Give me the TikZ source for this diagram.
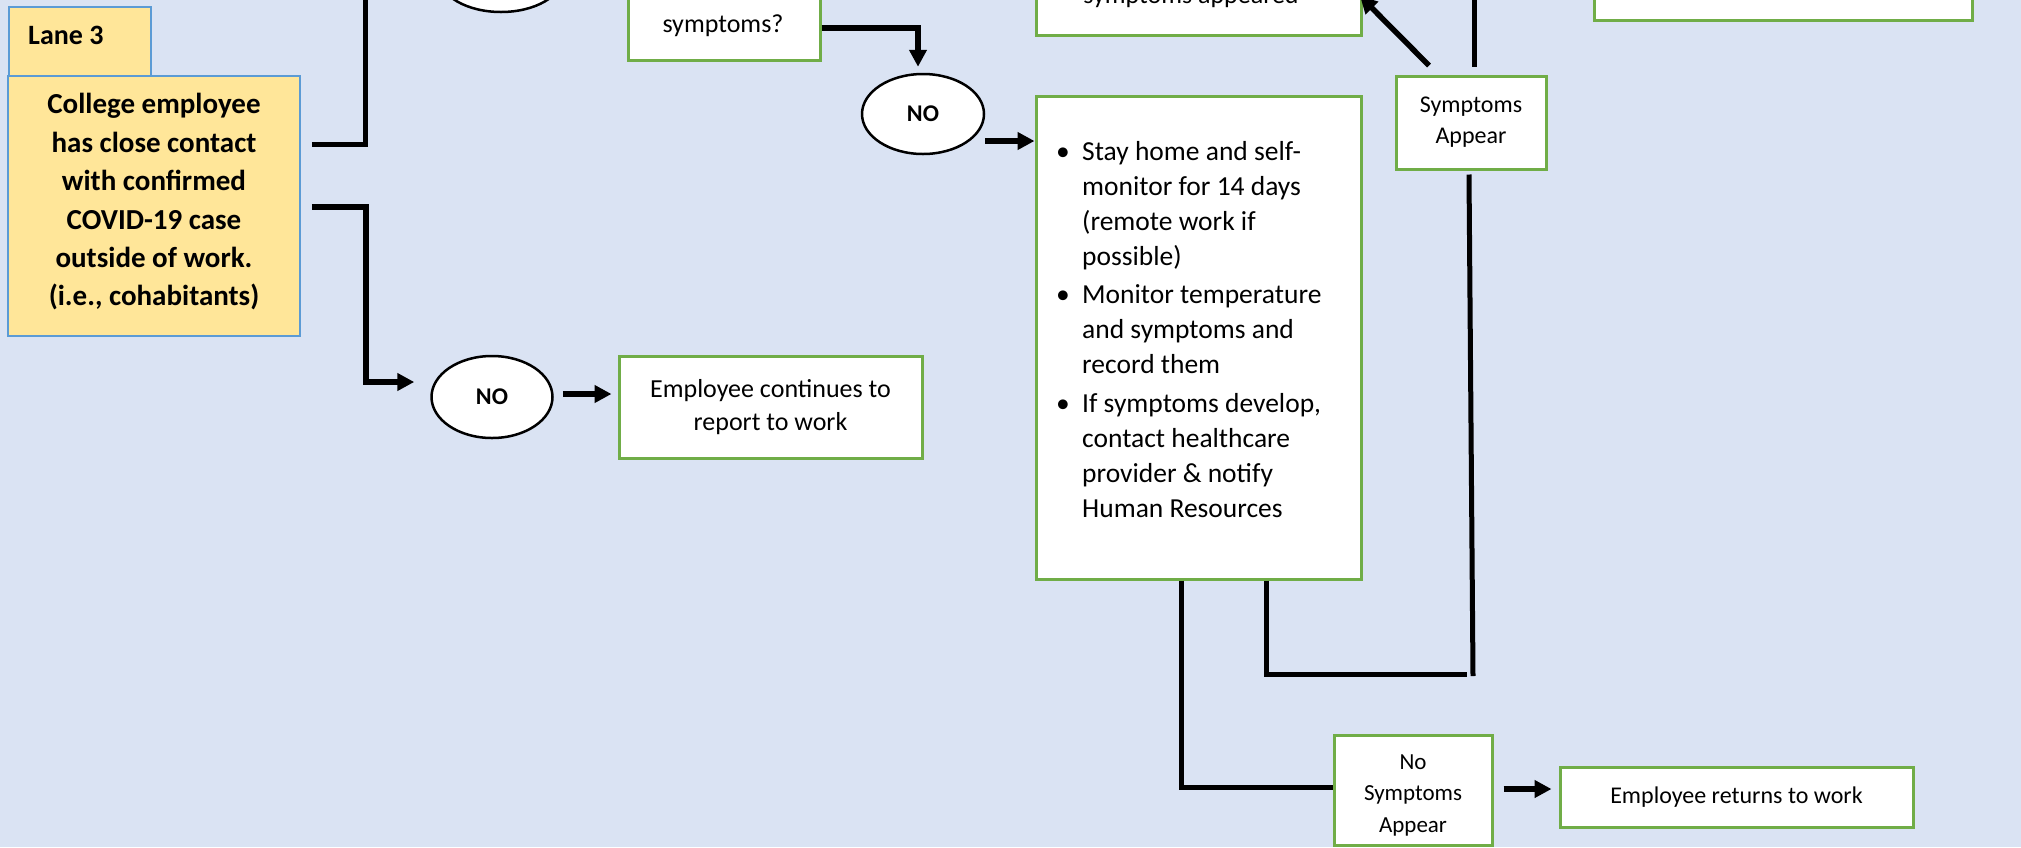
\documentclass[tikz,border=0pt]{standalone}
\usepackage{fontspec}
\setmainfont{Carlito}
\usetikzlibrary{arrows.meta,shapes.geometric}
\definecolor{bg}{HTML}{DAE3F3}
\definecolor{lanefill}{HTML}{FFE699}
\definecolor{laneline}{HTML}{5B9BD5}
\definecolor{boxline}{HTML}{70AD47}
\begin{document}
\begin{tikzpicture}[x=1pt,y=-1pt,
  lanebox/.style={draw=laneline, line width=1.5pt, fill=lanefill, inner sep=0pt},
  gbox/.style={draw=boxline, line width=3pt, fill=white, inner sep=0pt, align=center},
  oval/.style={ellipse, draw=black, line width=2.5pt, fill=white, inner sep=0pt, font=\fontsize{24}{28}\selectfont\bfseries},
  conn/.style={line width=5pt},
  arr/.style={line width=5.5pt, -{Triangle[length=17pt,width=17pt]}},
  txt/.style={inner sep=0pt, font=\fontsize{26}{35}\selectfont}
]
\useasboundingbox (0,0) rectangle (2021,847);
\clip (0,0) rectangle (2021,847);
\fill[bg] (0,0) rectangle (2021,847);

% helper y-levels
\coordinate (y28) at (0,28);
\coordinate (y141) at (0,141);
\coordinate (y144) at (0,144);
\coordinate (y207) at (0,207);
\coordinate (y382) at (0,382);
\coordinate (y394) at (0,394);
\coordinate (y789) at (0,789);
\coordinate (sappcorner) at (1360,-4);

% lane boxes
\node[lanebox, minimum width=142pt, minimum height=69pt, anchor=north west] (lane) at (8,6) {};
\node[anchor=base west, inner sep=0pt, font=\fontsize{28}{34}\selectfont\bfseries] (lanetxt) at (28,44) {Lane 3};
\node[lanebox, minimum width=292pt, minimum height=260pt] (college) at (154,206) {};
\node[inner sep=0pt, align=center, font=\fontsize{29}{38.4}\selectfont\bfseries] (collegetxt) at (154,202)
  {College employee\\has close contact\\with confirmed\\COVID-19 case\\outside of work.\\(i.e., cohabitants)};

% top partially visible nodes
\node[oval, minimum width=124pt, minimum height=72pt] (ov0) at (501,-24) {};
\node[gbox, minimum width=192pt, minimum height=124pt] (symq) at (724,-2) {};
\node[txt, anchor=base] (symqtxt) at (723,32) {symptoms?};
\node[gbox, minimum width=325pt, minimum height=140pt] (sapp) at (1198.5,-35) {};
\node[txt, anchor=base] (sapptxt) at (1191,3) {symptoms appeared};
\node[gbox, minimum width=378pt, minimum height=120pt] (tr) at (1783,-40) {};

% middle nodes
\node[oval, minimum width=122pt, minimum height=80pt] (no2) at (923,114) {NO};
\node[gbox, minimum width=325pt, minimum height=483pt] (plan) at (1198.5,337.5) {};
\node[inner sep=0pt, anchor=base west, font=\fontsize{27.5}{35}\selectfont] (plantxt) at (1056,160) {\begin{tabular}[t]{@{}p{26pt}@{}l@{}}
\textbullet & Stay home and self-\\
 & monitor for 14 days\\
 & (remote work if\\
 & possible)\\[3.5pt]
\textbullet & Monitor temperature\\
 & and symptoms and\\
 & record them\\[3.5pt]
\textbullet & If symptoms develop,\\
 & contact healthcare\\
 & provider \& notify\\
 & Human Resources
\end{tabular}};
\node[gbox, minimum width=150pt, minimum height=93pt, font=\fontsize{24}{31}\selectfont] (sa) at (1471,122.5) {Symptoms\\Appear};

% lower nodes
\node[oval, minimum width=121pt, minimum height=82pt] (no3) at (492,397) {NO};
\node[gbox, minimum width=303pt, minimum height=102pt, font=\fontsize{26}{33}\selectfont] (cont) at (770.5,407) {Employee continues to\\report to work};
\node[gbox, minimum width=158pt, minimum height=110pt] (ns) at (1413,790) {};
\node[inner sep=0pt, align=center, font=\fontsize{23}{31.5}\selectfont] (nstxt) at (1413,795) {No\\Symptoms\\Appear};
\node[gbox, minimum width=353pt, minimum height=60pt, font=\fontsize{24}{28}\selectfont] (ret) at (1736.5,797) {Employee returns to work};

% connectors
\draw[conn, shorten <=11pt] (college.east |- y144) -- ++(65,0) -- ++(0,-170);
\draw[arr, shorten <=11pt, shorten >=16pt] (college.east |- y207) -- ++(65,0) |- (no3.west |- y382);
\draw[arr, shorten <=9pt, shorten >=6pt] (no3.east |- y394) -- (cont.west |- y394);
\draw[arr, shorten >=6pt] (symq.east |- y28) -| ([xshift=-5pt]no2.north);
\draw[arr] (no2.east |- y141) -- (plan.west |- y141);
\draw[arr] ([xshift=-42pt,yshift=9pt]sa.north) -- (sappcorner);
\draw[conn] ([xshift=3pt,yshift=8pt]sa.north) -- ++(0,-90);
\draw[conn] ([xshift=-2pt,yshift=-4pt]sa.south) -- (1473,676);
\draw[conn] ([xshift=67.5pt]plan.south) -- (1266,674) -- (1467,674);
\draw[conn] ([xshift=-17.5pt]plan.south) |- ([yshift=3pt]ns.west);
\draw[arr, shorten <=10pt, shorten >=7pt] (ns.east |- y789) -- (ret.west |- y789);
\end{tikzpicture}
\end{document}
